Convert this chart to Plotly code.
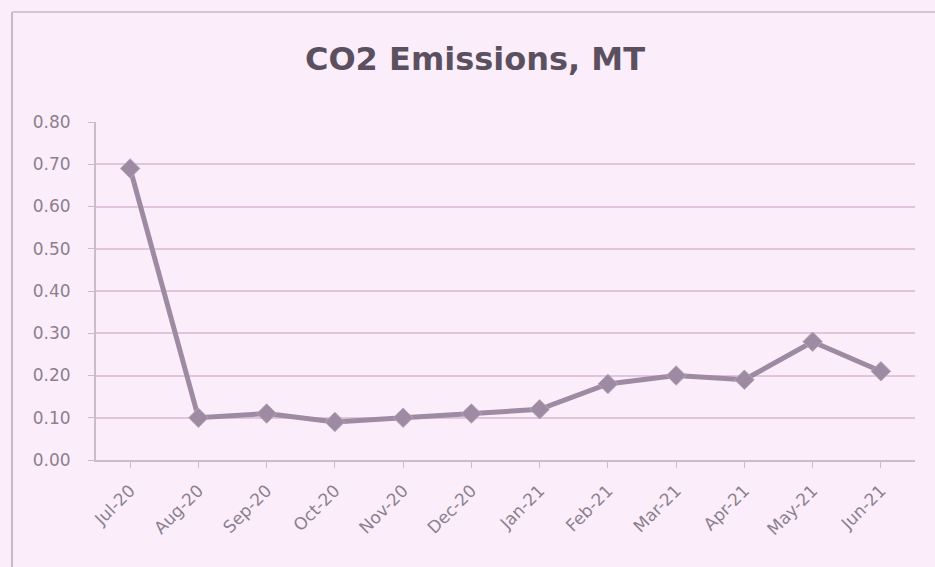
import plotly.graph_objects as go

months = ["Jul-20", "Aug-20", "Sep-20", "Oct-20", "Nov-20", "Dec-20",
          "Jan-21", "Feb-21", "Mar-21", "Apr-21", "May-21", "Jun-21"]
emissions = [0.69, 0.10, 0.11, 0.09, 0.10, 0.11, 0.12, 0.18, 0.20, 0.19, 0.28, 0.21]
y_ticks = [0.0, 0.1, 0.2, 0.3, 0.4, 0.5, 0.6, 0.7, 0.8]
y_tick_text = ["0.00", "0.10", "0.20", "0.30", "0.40", "0.50", "0.60", "0.70", "0.80"]

bg = "#fbeefa"
grid = "#dfc6dd"
line_col = "#9e8aa2"
text_col = "#8b808f"
axis_col = "#cbbbcc"

W, H = 935, 567
L, R, T, B = 96, 20, 122, 107
pw, ph = W - L - R, H - T - B

fig = go.Figure()
fig.add_trace(go.Scatter(
    x=months, y=emissions, mode="lines+markers",
    line=dict(color=line_col, width=5),
    marker=dict(symbol="diamond", size=15, color=line_col,
                line=dict(color="#b8a4ba", width=1)),
    showlegend=False, hoverinfo="x+y",
))

# outer chart frame (left and top edges visible in the reference)
fig.add_shape(type="line", xref="paper", yref="paper",
              x0=(12 - L) / pw, x1=(12 - L) / pw, y0=1 + (T - 12) / ph, y1=-(H - T - ph) / ph - 0.3,
              line=dict(color="#c9b8cb", width=2))
fig.add_shape(type="line", xref="paper", yref="paper",
              x0=(12 - L) / pw, x1=(W - L) / pw, y0=1 + (T - 12) / ph, y1=1 + (T - 12) / ph,
              line=dict(color="#d6c6d8", width=2))

fig.update_layout(
    width=W, height=H,
    paper_bgcolor=bg, plot_bgcolor=bg,
    margin=dict(l=L, r=R, t=T, b=B),
    title=dict(text="<b>CO2 Emissions, MT</b>", x=0.508, xanchor="center",
               y=0.897, yanchor="middle",
               font=dict(family="DejaVu Sans, sans-serif", size=32, color="#5b5060")),
    font=dict(family="DejaVu Sans, sans-serif", color=text_col, size=17),
    xaxis=dict(type="category", showgrid=False, tickangle=-45,
               showline=True, linecolor=axis_col, linewidth=2,
               ticks="outside", ticklen=6, tickcolor=axis_col,
               ticklabelstandoff=6,
               tickfont=dict(size=17, color=text_col), range=[-0.5, 11.5]),
    yaxis=dict(range=[0, 0.8], tickvals=y_ticks, ticktext=y_tick_text,
               showgrid=True, gridcolor=grid, gridwidth=2,
               showline=True, linecolor=axis_col, linewidth=2,
               ticks="outside", ticklen=6, tickcolor=axis_col,
               ticklabelstandoff=14,
               zeroline=False, tickfont=dict(size=17, color=text_col)),
)

fig.write_html("out.html", config={"displayModeBar": False},
               post_script="document.body.style.margin='0';document.body.style.background='%s';" % bg)
